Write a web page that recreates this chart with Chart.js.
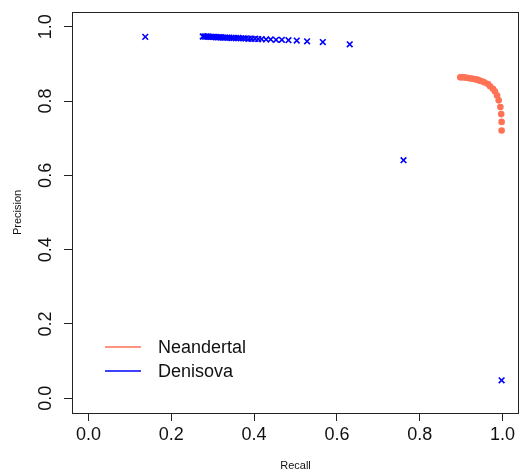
<!DOCTYPE html>
<html lang="en">
<head>
  <meta charset="UTF-8" />
  <title>Precision / Recall</title>
  <script src="https://cdn.jsdelivr.net/npm/chart.js"></script>
  <style>
    html, body { margin: 0; padding: 0; background: #fff; }
    #wrap { width: 520px; height: 474px; }
  </style>
</head>
<body>
  <div id="wrap"><canvas id="prChart" width="520" height="474"></canvas></div>

  <script>
    // values
    const tickValues = [0, 0.2, 0.4, 0.6, 0.8, 1.0];
    const tickLabels = ['0.0', '0.2', '0.4', '0.6', '0.8', '1.0'];
    const seriesNames = ['Neandertal', 'Denisova'];

    const neanRecall = [0.898, 0.903, 0.908, 0.913, 0.919, 0.924, 0.929, 0.934, 0.938, 0.942, 0.946,
      0.952, 0.957, 0.965, 0.970, 0.977, 0.982, 0.987, 0.991, 0.995, 0.997, 0.998, 0.998];
    const neanPrecision = [0.864, 0.864, 0.864, 0.863, 0.862, 0.861, 0.860, 0.859, 0.858, 0.857, 0.855,
      0.853, 0.850, 0.846, 0.840, 0.833, 0.826, 0.815, 0.802, 0.784, 0.765, 0.744, 0.721];

    const deniRecall = [0.137, 0.276, 0.280, 0.284, 0.288, 0.292, 0.296, 0.300, 0.304, 0.308, 0.312,
      0.316, 0.320, 0.325, 0.330, 0.335, 0.340, 0.345, 0.350, 0.356, 0.362, 0.368, 0.374, 0.380,
      0.387, 0.394, 0.402, 0.410, 0.418, 0.429, 0.440, 0.453, 0.467, 0.483, 0.503, 0.528, 0.566,
      0.631, 0.761, 0.998];
    const deniPrecision = [0.973, 0.974, 0.974, 0.974, 0.974, 0.973, 0.973, 0.973, 0.973, 0.972, 0.972,
      0.972, 0.972, 0.971, 0.971, 0.971, 0.971, 0.970, 0.970, 0.970, 0.970, 0.969, 0.969, 0.969,
      0.968, 0.968, 0.968, 0.967, 0.967, 0.966, 0.966, 0.965, 0.965, 0.964, 0.963, 0.961, 0.959,
      0.953, 0.641, 0.048];

    const colors = ['#FF7256', '#0000FF'];
    const FONT = '"Liberation Sans", Arial, Helvetica, sans-serif';

    const toPoints = (xs, ys) => xs.map((x, i) => ({ x: x, y: ys[i] }));
    const fixedTicks = scale => { scale.ticks = tickValues.map(v => ({ value: v })); };

    // box, rotated y labels, axis titles and legend
    const decorations = {
      id: 'decorations',
      afterDraw(chart) {
        const { ctx, chartArea: a } = chart;
        const ys = chart.scales.y;
        ctx.save();
        ctx.strokeStyle = '#222';
        ctx.lineWidth = 1;
        ctx.strokeRect(Math.round(a.left) + 0.5, Math.round(a.top) + 0.5,
          Math.round(a.right - a.left) - 1, Math.round(a.bottom - a.top));

        ctx.fillStyle = '#111';
        ctx.font = '18px ' + FONT;
        ctx.textAlign = 'center';
        ctx.textBaseline = 'middle';
        tickValues.forEach((v, i) => {
          ctx.save();
          ctx.translate(46, ys.getPixelForValue(v));
          ctx.rotate(-Math.PI / 2);
          ctx.fillText(tickLabels[i], 0, 0);
          ctx.restore();
        });

        ctx.font = '11px ' + FONT;
        ctx.fillText('Recall', (a.left + a.right) / 2, 466);
        ctx.save();
        ctx.translate(18, (a.top + a.bottom) / 2);
        ctx.rotate(-Math.PI / 2);
        ctx.fillText('Precision', 0, 0);
        ctx.restore();

        // legend
        ctx.font = '18px ' + FONT;
        ctx.textAlign = 'left';
        chart.data.datasets.forEach((ds, i) => {
          const y = 347 + i * 24;
          ctx.strokeStyle = colors[i];
          ctx.lineWidth = 1.5;
          ctx.beginPath();
          ctx.moveTo(105, y);
          ctx.lineTo(141, y);
          ctx.stroke();
          ctx.fillStyle = '#111';
          ctx.fillText(ds.label, 158, y + 1);
        });
        ctx.restore();
      }
    };

    new Chart(document.getElementById('prChart'), {
      type: 'scatter',
      data: {
        datasets: [
          {
            label: seriesNames[0],
            data: toPoints(neanRecall, neanPrecision),
            pointStyle: 'circle',
            pointRadius: 3.3,
            backgroundColor: colors[0],
            borderWidth: 0
          },
          {
            label: seriesNames[1],
            data: toPoints(deniRecall, deniPrecision),
            pointStyle: 'crossRot',
            pointRadius: 4,
            borderColor: colors[1],
            borderWidth: 1.6
          }
        ]
      },
      options: {
        responsive: false,
        animation: false,
        layout: { autoPadding: false, padding: { top: 12, right: 1, left: 0, bottom: 0 } },
        plugins: { legend: { display: false }, tooltip: { enabled: false } },
        scales: {
          x: {
            type: 'linear',
            min: -0.04,
            max: 1.04,
            afterBuildTicks: fixedTicks,
            afterFit: s => { s.height = 61; },
            grid: { drawOnChartArea: false, drawTicks: true, tickLength: 8, color: '#222' },
            border: { display: false },
            ticks: {
              color: '#111',
              font: { family: FONT, size: 18 },
              padding: 3,
              maxRotation: 0,
              callback: v => tickLabels[tickValues.indexOf(v)]
            }
          },
          y: {
            type: 'linear',
            min: -0.04,
            max: 1.04,
            afterBuildTicks: fixedTicks,
            afterFit: s => { s.width = 72; },
            grid: { drawOnChartArea: false, drawTicks: true, tickLength: 8, color: '#222' },
            border: { display: false },
            ticks: { display: false }
          }
        }
      },
      plugins: [decorations]
    });
  </script>
</body>
</html>
